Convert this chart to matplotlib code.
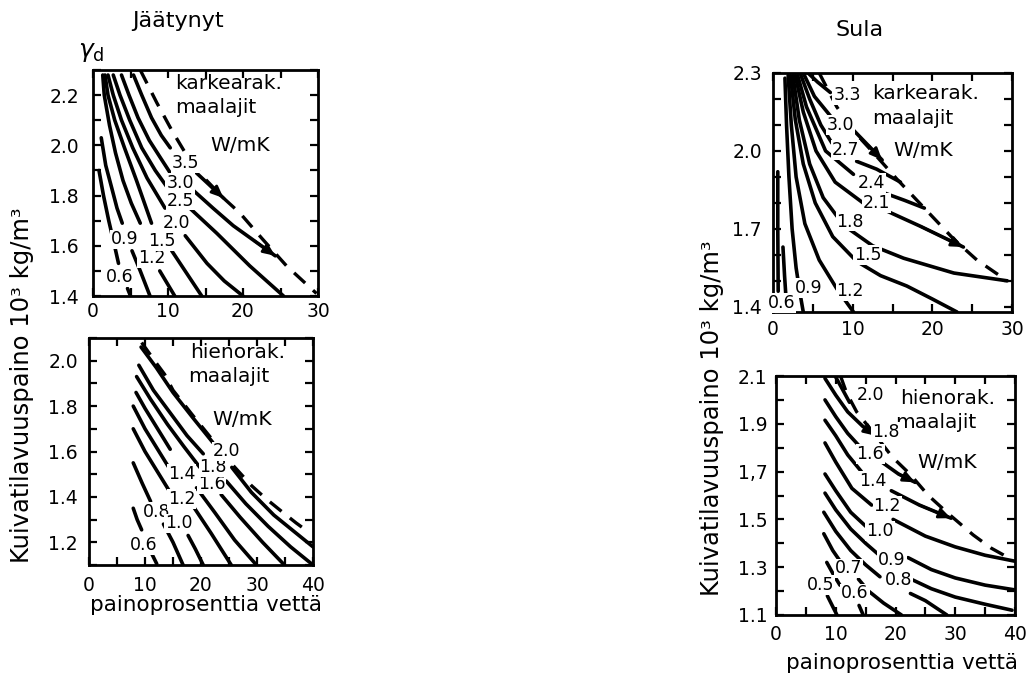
import matplotlib
matplotlib.use('Agg')
import matplotlib.pyplot as plt
from matplotlib.ticker import FixedLocator, FixedFormatter, MultipleLocator

plt.rcParams['font.family'] = ['DejaVu Sans']

# ---------------- DATA ----------------
# Panel 1: Jäätynyt, karkearakeiset maalajit (x: water %, y: dry density 10^3 kg/m^3)
p1_xticks = [0, 10, 20, 30]
p1_xticklabels = ['0', '10', '20', '30']
p1_yticks = [1.4, 1.6, 1.8, 2.0, 2.2]
p1_yticklabels = ['1.4', '1.6', '1.8', '2.0', '2.2']
p1_curves = {
    '0.6': [[(0.8, 1.90), (1.4, 1.80), (2.1, 1.70), (2.8, 1.61), (3.4, 1.53)],
            [(4.6, 1.43), (5.0, 1.40)]],
    '0.9': [[(1.1, 2.03), (1.7, 1.92), (2.5, 1.83), (3.2, 1.75), (3.9, 1.69)],
            [(5.2, 1.58), (6.3, 1.50), (7.6, 1.40)]],
    '1.2': [[(1.3, 2.28), (1.5, 2.20), (2.2, 2.08), (3.0, 1.97), (4.0, 1.86), (5.1, 1.77), (6.3, 1.69)],
            [(8.9, 1.50), (9.9, 1.45), (10.9, 1.40)]],
    '1.5': [[(1.6, 2.28), (2.0, 2.20), (2.9, 2.10), (4.2, 1.99), (5.8, 1.86), (7.8, 1.69)],
            [(10.5, 1.58), (12.5, 1.49), (14.5, 1.40)]],
    '2.0': [[(2.0, 2.28), (2.7, 2.20), (3.8, 2.10), (5.3, 1.99), (7.2, 1.87), (9.6, 1.75)],
            [(12.3, 1.64), (15.2, 1.53), (17.5, 1.46), (20.0, 1.40)]],
    '2.5': [[(2.7, 2.28), (3.6, 2.20), (4.9, 2.10), (6.5, 1.99), (8.3, 1.90), (10.2, 1.82)],
            [(12.9, 1.75), (16.5, 1.65), (20.9, 1.52), (25.4, 1.40)]],
    '3.0': [[(3.8, 2.28), (4.8, 2.20), (6.0, 2.11), (7.5, 2.02), (9.0, 1.95), (10.3, 1.89)],
            [(13.4, 1.82), (16.0, 1.75), (18.7, 1.68), (21.5, 1.62), (24.3, 1.56)]],
    '3.5': [[(5.4, 2.28), (6.5, 2.20), (7.8, 2.11), (9.1, 2.04), (10.3, 1.99)],
            [(13.8, 1.89), (15.6, 1.84), (17.4, 1.79)]],
}
p1_labels = {'0.6': (3.6, 1.475), '0.9': (4.2, 1.625), '1.2': (7.8, 1.55), '1.5': (9.2, 1.62),
             '2.0': (11.2, 1.69), '2.5': (11.7, 1.78), '3.0': (11.6, 1.85), '3.5': (12.3, 1.93)}
p1_arrows = ['3.0', '3.5']
p1_dashed = [(6.3, 2.30), (8.5, 2.17), (10.5, 2.06), (12.5, 1.96), (14.5, 1.88), (17.4, 1.79),
             (19.6, 1.73), (22.5, 1.63), (25.8, 1.52), (29.8, 1.41)]

# Panel 2: Jäätynyt, hienorakeiset maalajit
p2_xticks = [0, 10, 20, 30, 40]
p2_xticklabels = ['0', '10', '20', '30', '40']
p2_yticks = [1.2, 1.4, 1.6, 1.8, 2.0]
p2_yticklabels = ['1.2', '1.4', '1.6', '1.8', '2.0']
p2_curves = {
    '0.6': [[(7.9, 1.35), (8.6, 1.30), (9.4, 1.255)],
            [(11.2, 1.15), (12.1, 1.105)]],
    '0.8': [[(7.9, 1.55), (9.5, 1.46), (11.0, 1.38)],
            [(13.3, 1.28), (15.0, 1.20), (16.8, 1.10)]],
    '1.0': [[(7.9, 1.70), (10.0, 1.60), (12.5, 1.50), (14.5, 1.42)],
            [(17.7, 1.23), (19.0, 1.17), (20.4, 1.10)]],
    '1.2': [[(7.9, 1.80), (10.0, 1.70), (12.5, 1.60), (15.0, 1.50)],
            [(18.3, 1.37), (21.8, 1.24), (25.4, 1.10)]],
    '1.4': [[(8.4, 1.86), (10.0, 1.79), (12.0, 1.71), (14.5, 1.61)],
            [(19.2, 1.44), (22.5, 1.33), (26.0, 1.21), (29.9, 1.10)]],
    '1.6': [[(8.5, 1.93), (11.0, 1.83), (14.0, 1.72), (17.0, 1.62), (19.8, 1.53)],
            [(23.6, 1.41), (27.0, 1.31), (31.0, 1.20), (34.9, 1.10)]],
    '1.8': [[(8.9, 1.98), (11.5, 1.87), (14.5, 1.77), (17.5, 1.67), (20.4, 1.59)],
            [(24.5, 1.47), (28.0, 1.37), (32.0, 1.27), (36.0, 1.18), (40.0, 1.10)]],
    '2.0': [[(9.3, 2.06), (12.0, 1.97), (15.0, 1.86), (18.5, 1.75), (22.1, 1.64)],
            [(25.5, 1.53), (29.0, 1.42), (33.0, 1.32), (36.5, 1.25), (40.0, 1.18)]],
}
p2_labels = {'0.6': (9.7, 1.187), '0.8': (12.0, 1.335), '1.0': (16.0, 1.283), '1.2': (16.5, 1.39),
             '1.4': (16.5, 1.50), '1.6': (21.9, 1.455), '1.8': (22.2, 1.53), '2.0': (24.6, 1.60)}
p2_arrows = []
p2_dashed = [(9.4, 2.08), (12.0, 1.99), (13.5, 1.94), (15.0, 1.87), (18.5, 1.76), (22.1, 1.65),
             (25.5, 1.545), (29.0, 1.45), (31.7, 1.39), (34.7, 1.33), (37.0, 1.285), (39.5, 1.24)]

# Panel 3: Sula, karkearakeiset maalajit
p3_xticks = [0, 10, 20, 30]
p3_xticklabels = ['0', '10', '20', '30']
p3_yticks = [1.4, 1.7, 2.0, 2.3]
p3_yticklabels = ['1.4', '1.7', '2.0', '2.3']
p3_curves = {
    '0.6': [[(0.6, 1.92), (0.6, 1.70), (0.65, 1.46)],
            [(1.25, 1.63), (1.45, 1.52), (1.6, 1.45)]],
    '0.9': [[(1.5, 2.28), (1.7, 2.10), (2.0, 1.90), (2.4, 1.70), (2.9, 1.55), (3.4, 1.45), (3.8, 1.38)]],
    '1.2': [[(1.9, 2.29), (2.3, 2.10), (2.9, 1.90), (4.0, 1.72), (5.8, 1.58), (8.0, 1.47), (10.1, 1.38)]],
    '1.5': [[(2.2, 2.29), (2.8, 2.12), (3.8, 1.95), (5.3, 1.80), (7.5, 1.67), (10.5, 1.575),
             (13.5, 1.52), (16.8, 1.48), (20.0, 1.43), (23.1, 1.38)]],
    '1.8': [[(2.5, 2.29), (3.3, 2.12), (4.6, 1.95), (6.3, 1.82), (8.0, 1.75), (9.5, 1.70),
             (12.5, 1.635), (16.4, 1.587), (22.7, 1.53), (29.4, 1.50)]],
    '2.1': [[(2.8, 2.29), (3.8, 2.15), (5.4, 2.00), (7.8, 1.88), (11.3, 1.80)],
            [(14.2, 1.77), (18.5, 1.71), (23.9, 1.63)]],
    '2.4': [[(3.1, 2.29), (4.2, 2.17), (6.6, 2.00), (10.1, 1.91)],
            [(13.8, 1.84), (16.5, 1.81), (19.0, 1.78)]],
    '2.7': [[(3.4, 2.30), (4.6, 2.20), (6.0, 2.10), (7.4, 2.03)],
            [(10.5, 1.96), (13.0, 1.93), (16.0, 1.88)]],
    '3.0': [[(3.8, 2.30), (5.2, 2.21), (7.2, 2.135)],
            [(10.1, 2.08), (12.0, 2.02), (13.7, 1.965)]],
    '3.3': [[(4.4, 2.30), (5.6, 2.265), (7.2, 2.225)]],
}
p3_labels = {'0.6': (1.1, 1.414), '0.9': (4.45, 1.472), '1.2': (9.7, 1.459), '1.5': (11.9, 1.60),
             '1.8': (9.7, 1.728), '2.1': (13.0, 1.80), '2.4': (12.4, 1.876), '2.7': (9.06, 2.004),
             '3.0': (8.5, 2.10), '3.3': (9.3, 2.215)}
p3_arrows = ['3.0', '2.1']
p3_dashed = [(5.8, 2.30), (8.0, 2.17), (10.0, 2.08), (12.4, 2.00), (15.6, 1.89), (19.3, 1.77),
             (22.7, 1.66), (25.6, 1.58), (29.4, 1.50)]

# Panel 4: Sula, hienorakeiset maalajit
p4_xticks = [0, 10, 20, 30, 40]
p4_xticklabels = ['0', '10', '20', '30', '40']
p4_yticks = [1.1, 1.3, 1.5, 1.7, 1.9, 2.1]
p4_yticklabels = ['1.1', '1.3', '1.5', '1,7', '1.9', '2.1']
p4_curves = {
    '0.5': [[(8.6, 1.18), (9.4, 1.14), (10.2, 1.10)]],
    '0.6': [[(8.5, 1.32), (9.6, 1.27), (10.7, 1.225)],
            [(13.9, 1.14), (14.6, 1.10)]],
    '0.7': [[(8.0, 1.44), (9.5, 1.37), (10.6, 1.33)],
            [(13.8, 1.25), (15.5, 1.20), (18.0, 1.15), (21.0, 1.10)]],
    '0.8': [[(8.0, 1.53), (10.0, 1.45), (12.5, 1.37), (15.0, 1.31), (17.4, 1.26)],
            [(22.5, 1.19), (25.0, 1.16), (28.6, 1.10)]],
    '0.9': [[(8.2, 1.61), (10.0, 1.54), (12.5, 1.46), (15.0, 1.40), (17.3, 1.35)],
            [(22.6, 1.25), (26.0, 1.21), (30.0, 1.175), (35.0, 1.145), (39.5, 1.12)]],
    '1.0': [[(8.2, 1.69), (10.0, 1.62), (12.5, 1.53), (15.3, 1.465)],
            [(22.1, 1.34), (26.0, 1.29), (30.0, 1.255), (35.0, 1.225), (40.0, 1.205)]],
    '1.2': [[(8.2, 1.82), (10.0, 1.74), (12.7, 1.63), (16.0, 1.56)],
            [(19.6, 1.50), (25.0, 1.43), (30.0, 1.385), (35.0, 1.35), (40.0, 1.325)]],
    '1.4': [[(8.2, 1.915), (10.0, 1.85), (12.0, 1.77), (14.3, 1.70)],
            [(19.3, 1.62), (24.0, 1.56), (29.3, 1.505)]],
    '1.6': [[(8.2, 2.00), (10.0, 1.93), (12.0, 1.86), (14.2, 1.80)],
            [(17.7, 1.74), (20.5, 1.69), (23.3, 1.655)]],
    '1.8': [[(8.2, 2.09), (10.0, 2.02), (12.0, 1.95), (14.5, 1.89), (16.7, 1.85)]],
    '2.0': [[(9.9, 2.10), (11.0, 2.05), (12.3, 1.99)]],
}
p4_labels = {'0.5': (7.4, 1.226), '0.6': (13.2, 1.19), '0.7': (12.1, 1.295), '0.8': (20.5, 1.246),
             '0.9': (19.4, 1.33), '1.0': (17.4, 1.45), '1.2': (18.6, 1.555), '1.4': (16.2, 1.66),
             '1.6': (15.8, 1.775), '1.8': (18.4, 1.865), '2.0': (15.8, 2.02)}
p4_arrows = ['1.8', '1.6', '1.4']
p4_dashed = [(10.8, 2.10), (11.8, 2.03), (13.5, 1.95), (16.7, 1.85), (19.5, 1.76), (22.4, 1.69),
             (25.5, 1.60), (28.8, 1.525), (33.0, 1.435), (36.0, 1.38), (39.6, 1.33)]

# ---------------- FIGURE ----------------
W, H = 1029, 676
fig = plt.figure(figsize=(W / 100, H / 100), dpi=100)


def ax_at(l, t, r, b):
    return fig.add_axes([l / W, (H - b) / H, (r - l) / W, (b - t) / H])


def setup(ax, xlim, ylim, xt, xtl, yt, ytl, ypad, xpad):
    ax.set_xlim(*xlim)
    ax.set_ylim(*ylim)
    ax.xaxis.set_major_locator(FixedLocator(xt))
    ax.xaxis.set_major_formatter(FixedFormatter(xtl))
    ax.yaxis.set_major_locator(FixedLocator(yt))
    ax.yaxis.set_major_formatter(FixedFormatter(ytl))
    ax.xaxis.set_minor_locator(MultipleLocator(5))
    ax.yaxis.set_minor_locator(MultipleLocator(0.1))
    ax.tick_params(which='both', direction='in', top=True, right=True,
                   length=6, width=1.6, labelsize=13.5)
    ax.tick_params(axis='y', pad=ypad)
    ax.tick_params(axis='x', pad=xpad)
    for s in ax.spines.values():
        s.set_linewidth(2.0)


def draw(ax, curves, labels, arrows, dashed):
    for name, segs in curves.items():
        for seg in segs:
            ax.plot([p[0] for p in seg], [p[1] for p in seg], color='k', lw=2.6,
                    solid_capstyle='round', solid_joinstyle='round', zorder=3)
        if name in arrows:
            seg = segs[-1]
            ax.annotate('', xy=seg[-1], xytext=seg[-2],
                        arrowprops=dict(arrowstyle='-|>,head_length=0.7,head_width=0.3',
                                        color='k', lw=2.0, shrinkA=0, shrinkB=0),
                        zorder=4)
    ax.plot([p[0] for p in dashed], [p[1] for p in dashed], color='k', lw=2.4,
            ls=(0, (4.5, 3.2)), zorder=3)
    for name, (x, y) in labels.items():
        ax.text(x, y, name, ha='center', va='center', fontsize=12.5, zorder=5,
                bbox=dict(boxstyle='square,pad=0.05', fc='white', ec='none'))


TS = 14.5

ax1 = ax_at(93, 70, 318, 296)
setup(ax1, (0, 30), (1.4, 2.3), p1_xticks, p1_xticklabels, p1_yticks, p1_yticklabels, 10, 4)
draw(ax1, p1_curves, p1_labels, p1_arrows, p1_dashed)
ax1.text(10.9, 2.245, 'karkearak.', fontsize=TS, va='center', ha='left')
ax1.text(10.9, 2.150, 'maalajit', fontsize=TS, va='center', ha='left')
ax1.text(15.6, 2.0, 'W/mK', fontsize=TS, va='center', ha='left')

ax2 = ax_at(89, 338, 313, 565)
setup(ax2, (0, 40), (1.1, 2.1), p2_xticks, p2_xticklabels, p2_yticks, p2_yticklabels, 8, 8)
draw(ax2, p2_curves, p2_labels, p2_arrows, p2_dashed)
ax2.text(18.0, 2.035, 'hienorak.', fontsize=TS, va='center', ha='left')
ax2.text(17.7, 1.93, 'maalajit', fontsize=TS, va='center', ha='left')
ax2.text(22.0, 1.74, 'W/mK', fontsize=TS, va='center', ha='left')

ax3 = ax_at(773, 73, 1012, 312)
setup(ax3, (0, 30), (1.38, 2.3), p3_xticks, p3_xticklabels, p3_yticks, p3_yticklabels, 8, 6)
draw(ax3, p3_curves, p3_labels, p3_arrows, p3_dashed)
ax3.text(12.5, 2.22, 'karkearak.', fontsize=TS, va='center', ha='left')
ax3.text(12.5, 2.125, 'maalajit', fontsize=TS, va='center', ha='left')
ax3.text(15.1, 2.0, 'W/mK', fontsize=TS, va='center', ha='left')

ax4 = ax_at(776, 376, 1015, 615)
setup(ax4, (0, 40), (1.1, 2.1), p4_xticks, p4_xticklabels, p4_yticks, p4_yticklabels, 6, 7)
draw(ax4, p4_curves, p4_labels, p4_arrows, p4_dashed)
ax4.text(20.8, 2.005, 'hienorak.', fontsize=TS, va='center', ha='left')
ax4.text(19.9, 1.905, 'maalajit', fontsize=TS, va='center', ha='left')
ax4.text(23.6, 1.74, 'W/mK', fontsize=TS, va='center', ha='left')


def ftext(x, y, s, **kw):
    fig.text(x / W, 1 - y / H, s, ha='center', va='center', **kw)


ftext(178, 21, 'Jäätynyt', fontsize=16)
ftext(860, 30, 'Sula', fontsize=16)
ftext(91, 52, r'$\gamma_\mathrm{d}$', fontsize=18)
ftext(22, 385, 'Kuivatilavuuspaino 10³ kg/m³', fontsize=17.5, rotation=90)
ftext(712, 418, 'Kuivatilavuuspaino 10³ kg/m³', fontsize=17.5, rotation=90)
ftext(206, 605, 'painoprosenttia vettä', fontsize=15.5)
ftext(902, 663, 'painoprosenttia vettä', fontsize=15.5)

fig.savefig('out.png', dpi=100)
